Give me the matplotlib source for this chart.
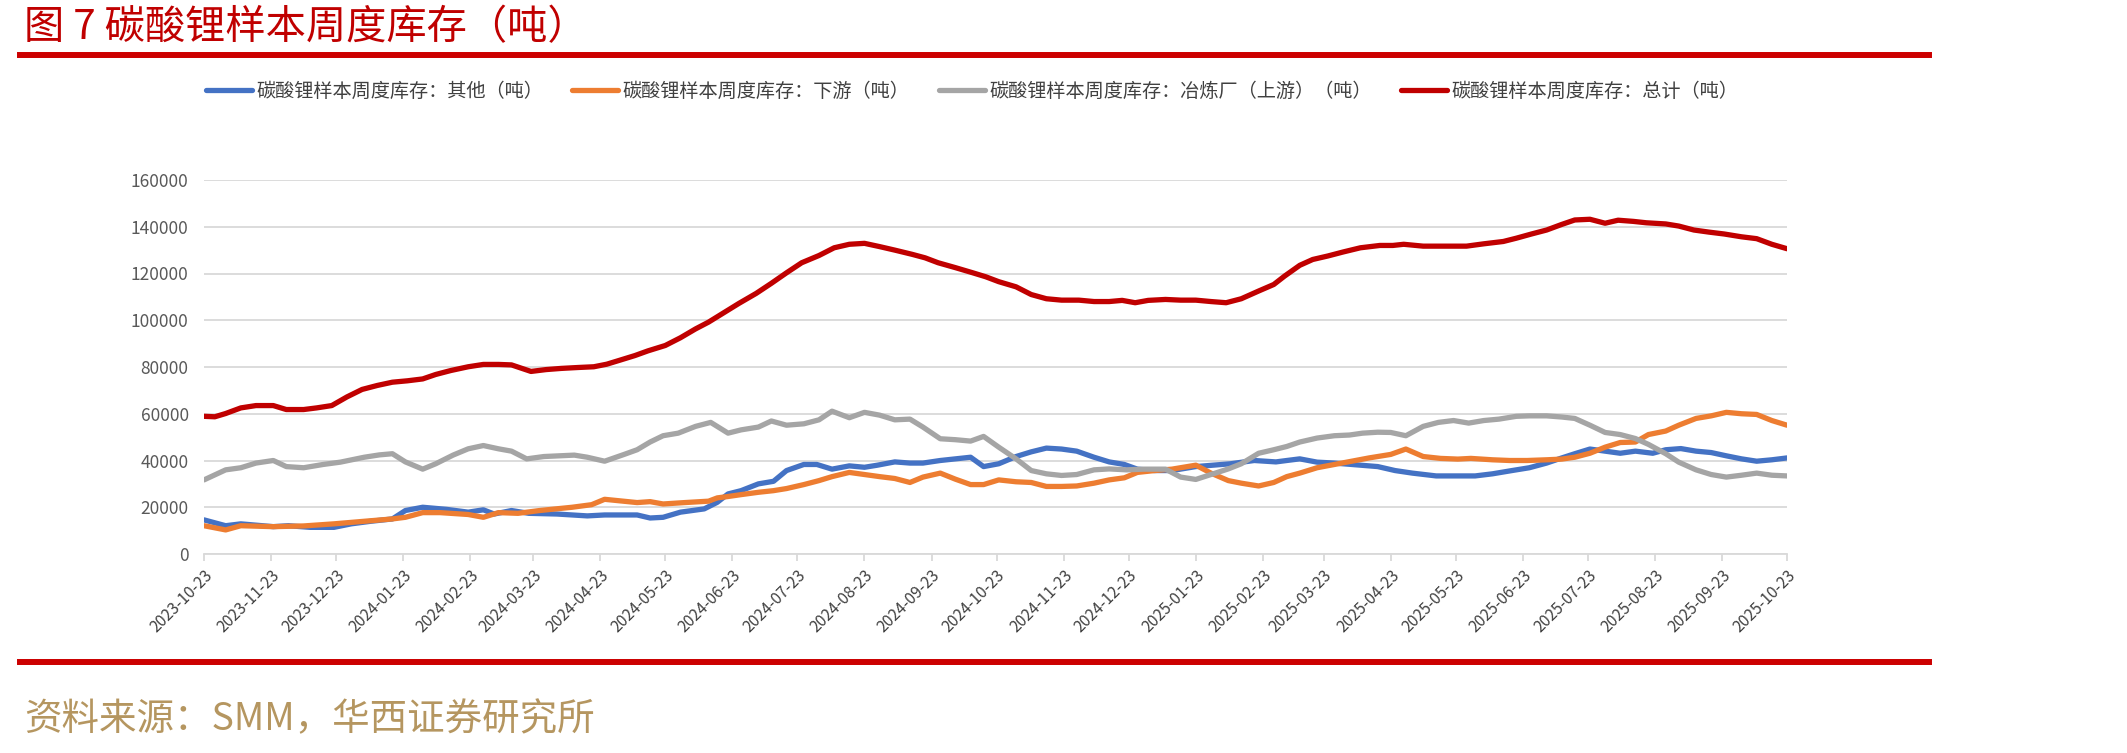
import matplotlib
matplotlib.use("Agg")
import matplotlib.pyplot as plt
import matplotlib.dates as mdates
from matplotlib.lines import Line2D
import pandas as pd

plt.rcParams['font.family'] = ['Noto Sans CJK SC', 'DejaVu Sans']

title = "图 7 碳酸锂样本周度库存（吨）"
source = "资料来源：SMM，华西证券研究所"
labels = ["碳酸锂样本周度库存：其他（吨）", "碳酸锂样本周度库存：下游（吨）",
          "碳酸锂样本周度库存：冶炼厂（上游）（吨）", "碳酸锂样本周度库存：总计（吨）"]
colors = ["#4472C4", "#ED7D31", "#A5A5A5", "#C00000"]

other_dates = ["2023-10-23", "2023-11-02", "2023-11-09", "2023-11-24", "2023-12-01", "2023-12-11",
               "2023-12-22", "2023-12-30", "2024-01-08", "2024-01-18", "2024-01-24", "2024-02-01",
               "2024-02-12", "2024-02-22", "2024-02-29", "2024-03-05", "2024-03-13", "2024-03-21",
               "2024-04-03", "2024-04-17", "2024-04-25", "2024-05-10", "2024-05-16", "2024-05-22",
               "2024-05-30", "2024-06-10", "2024-06-16", "2024-06-21", "2024-06-27", "2024-07-05",
               "2024-07-12", "2024-07-18", "2024-07-26", "2024-08-01", "2024-08-08", "2024-08-16",
               "2024-08-23", "2024-08-29", "2024-09-06", "2024-09-13", "2024-09-19", "2024-09-27",
               "2024-10-04", "2024-10-11", "2024-10-17", "2024-10-24", "2024-11-01", "2024-11-08",
               "2024-11-15", "2024-11-22", "2024-11-29", "2024-12-07", "2024-12-14", "2024-12-21",
               "2024-12-27", "2025-01-04", "2025-01-12", "2025-01-23", "2025-01-31", "2025-02-08",
               "2025-02-19", "2025-03-01", "2025-03-06", "2025-03-12", "2025-03-20", "2025-03-28",
               "2025-04-05", "2025-04-17", "2025-04-25", "2025-05-03", "2025-05-14", "2025-05-22",
               "2025-06-01", "2025-06-09", "2025-06-18", "2025-06-26", "2025-07-04", "2025-07-11",
               "2025-07-17", "2025-07-24", "2025-07-31", "2025-08-07", "2025-08-14", "2025-08-22",
               "2025-08-28", "2025-09-04", "2025-09-11", "2025-09-18", "2025-09-25", "2025-10-02",
               "2025-10-09", "2025-10-16", "2025-10-23"]
other_vals = [14600, 12100, 12900, 11700, 12100, 11400, 11400, 12900, 14000, 15000, 18600, 20000,
              19100, 17900, 18900, 17100, 18600, 17400, 17100, 16300, 16700, 16700, 15400, 15700,
              17900, 19300, 22100, 25700, 27100, 30000, 31100, 35700, 38300, 38300, 36300, 37700,
              37100, 38000, 39400, 38900, 38900, 40000, 40700, 41400, 37400, 38600, 41700, 43700,
              45300, 44900, 44000, 41400, 39400, 38300, 36300, 35700, 35700, 37400, 38000, 38600,
              40000, 39400, 40000, 40700, 39300, 38900, 38300, 37400, 35700, 34600, 33400, 33400,
              33400, 34300, 35700, 36900, 38900, 41100, 42900, 44900, 44000, 43100, 44000, 43100,
              44600, 45100, 44000, 43400, 42000, 40700, 39700, 40300, 41100]

down_dates = ["2023-10-23", "2023-11-02", "2023-11-09", "2023-11-24", "2023-12-08", "2023-12-22",
              "2024-01-05", "2024-01-18", "2024-01-24", "2024-02-01", "2024-02-09", "2024-02-22",
              "2024-02-29", "2024-03-07", "2024-03-16", "2024-03-26", "2024-04-10", "2024-04-19",
              "2024-04-25", "2024-05-10", "2024-05-16", "2024-05-22", "2024-06-01", "2024-06-12",
              "2024-06-16", "2024-06-21", "2024-06-27", "2024-07-05", "2024-07-12", "2024-07-18",
              "2024-07-26", "2024-08-02", "2024-08-08", "2024-08-16", "2024-08-23", "2024-08-30",
              "2024-09-06", "2024-09-13", "2024-09-19", "2024-09-27", "2024-10-04", "2024-10-11",
              "2024-10-17", "2024-10-24", "2024-11-01", "2024-11-08", "2024-11-15", "2024-11-22",
              "2024-11-29", "2024-12-07", "2024-12-14", "2024-12-21", "2024-12-27", "2025-01-04",
              "2025-01-12", "2025-01-23", "2025-01-30", "2025-02-07", "2025-02-13", "2025-02-21",
              "2025-02-28", "2025-03-06", "2025-03-12", "2025-03-20", "2025-03-28", "2025-04-05",
              "2025-04-13", "2025-04-23", "2025-04-30", "2025-05-08", "2025-05-16", "2025-05-24",
              "2025-05-30", "2025-06-09", "2025-06-17", "2025-06-25", "2025-07-04", "2025-07-11",
              "2025-07-17", "2025-07-24", "2025-07-31", "2025-08-07", "2025-08-14", "2025-08-20",
              "2025-08-28", "2025-09-03", "2025-09-11", "2025-09-18", "2025-09-25", "2025-10-02",
              "2025-10-09", "2025-10-16", "2025-10-23"]
down_vals = [12100, 10300, 12100, 11700, 12000, 12900, 14000, 15000, 15700, 17700, 17700, 16900,
             15700, 17700, 17400, 18600, 20000, 21100, 23400, 22000, 22400, 21400, 22000, 22600,
             24000, 24600, 25400, 26400, 27100, 28000, 29700, 31400, 33100, 34900, 34000, 33100,
             32300, 30600, 32900, 34600, 32000, 29700, 29700, 31700, 30900, 30600, 28900, 28900,
             29100, 30300, 31700, 32600, 34900, 35700, 36300, 38000, 34600, 31400, 30300, 29100,
             30600, 33100, 34600, 36900, 38300, 39700, 41100, 42600, 44900, 41700, 40900, 40600,
             40900, 40300, 40000, 40000, 40300, 40600, 41400, 43100, 45700, 47700, 47900, 51100,
             52600, 55100, 58000, 59100, 60600, 60000, 59700, 57100, 55100]

smelter_dates = ["2023-10-23", "2023-11-02", "2023-11-09", "2023-11-16", "2023-11-24", "2023-11-30",
                 "2023-12-08", "2023-12-17", "2023-12-25", "2024-01-05", "2024-01-12", "2024-01-18",
                 "2024-01-24", "2024-02-01", "2024-02-07", "2024-02-15", "2024-02-22", "2024-02-29",
                 "2024-03-07", "2024-03-13", "2024-03-20", "2024-03-28", "2024-04-04", "2024-04-11",
                 "2024-04-17", "2024-04-25", "2024-05-04", "2024-05-10", "2024-05-16", "2024-05-22",
                 "2024-05-29", "2024-06-06", "2024-06-13", "2024-06-21", "2024-06-27", "2024-07-05",
                 "2024-07-11", "2024-07-18", "2024-07-26", "2024-08-02", "2024-08-08", "2024-08-16",
                 "2024-08-23", "2024-08-30", "2024-09-06", "2024-09-13", "2024-09-19", "2024-09-27",
                 "2024-10-04", "2024-10-11", "2024-10-17", "2024-10-24", "2024-11-01", "2024-11-08",
                 "2024-11-15", "2024-11-22", "2024-11-29", "2024-12-07", "2024-12-14", "2024-12-22",
                 "2024-12-30", "2025-01-09", "2025-01-16", "2025-01-23", "2025-01-30", "2025-02-07",
                 "2025-02-13", "2025-02-21", "2025-02-28", "2025-03-06", "2025-03-12", "2025-03-20",
                 "2025-03-28", "2025-04-04", "2025-04-10", "2025-04-17", "2025-04-23", "2025-04-30",
                 "2025-05-08", "2025-05-15", "2025-05-22", "2025-05-29", "2025-06-05", "2025-06-12",
                 "2025-06-20", "2025-06-26", "2025-07-04", "2025-07-11", "2025-07-17", "2025-07-24",
                 "2025-07-31", "2025-08-07", "2025-08-14", "2025-08-20", "2025-08-28", "2025-09-03",
                 "2025-09-11", "2025-09-18", "2025-09-25", "2025-10-02", "2025-10-09", "2025-10-16",
                 "2025-10-23"]
smelter_vals = [31700, 36000, 36900, 38900, 40000, 37400, 36900, 38300, 39300, 41400, 42400, 42900,
                39400, 36300, 38600, 42300, 45000, 46400, 45000, 44000, 40700, 41700, 42000, 42300,
                41400, 39700, 42600, 44600, 47900, 50600, 51700, 54600, 56300, 51700, 53100, 54300,
                56900, 55100, 55700, 57400, 61100, 58300, 60600, 59400, 57400, 57700, 54300, 49300,
                48900, 48300, 50300, 45700, 40700, 35700, 34300, 33600, 34000, 36000, 36400, 36000,
                36300, 36300, 32900, 31900, 34000, 36400, 38600, 43100, 44600, 46000, 47900, 49600,
                50600, 50900, 51700, 52100, 52000, 50600, 54600, 56300, 57100, 56000, 57100, 57700,
                58900, 59100, 59100, 58600, 58000, 55100, 52000, 51100, 49400, 46900, 42900, 39300,
                36000, 34000, 32900, 33700, 34600, 33700, 33400]

total_dates = ["2023-10-23", "2023-10-28", "2023-11-02", "2023-11-09", "2023-11-16", "2023-11-24",
               "2023-11-30", "2023-12-08", "2023-12-14", "2023-12-21", "2023-12-28", "2024-01-04",
               "2024-01-11", "2024-01-18", "2024-01-25", "2024-02-01", "2024-02-07", "2024-02-14",
               "2024-02-22", "2024-02-29", "2024-03-07", "2024-03-13", "2024-03-22", "2024-03-29",
               "2024-04-05", "2024-04-13", "2024-04-20", "2024-04-26", "2024-05-02", "2024-05-09",
               "2024-05-15", "2024-05-23", "2024-05-30", "2024-06-06", "2024-06-12", "2024-06-19",
               "2024-06-26", "2024-07-04", "2024-07-11", "2024-07-18", "2024-07-25", "2024-08-02",
               "2024-08-09", "2024-08-16", "2024-08-23", "2024-08-30", "2024-09-06", "2024-09-14",
               "2024-09-20", "2024-09-26", "2024-10-04", "2024-10-12", "2024-10-18", "2024-10-24",
               "2024-11-01", "2024-11-08", "2024-11-15", "2024-11-22", "2024-11-30", "2024-12-07",
               "2024-12-14", "2024-12-20", "2024-12-26", "2025-01-01", "2025-01-09", "2025-01-16",
               "2025-01-23", "2025-01-30", "2025-02-06", "2025-02-13", "2025-02-21", "2025-02-28",
               "2025-03-05", "2025-03-12", "2025-03-18", "2025-03-25", "2025-04-01", "2025-04-09",
               "2025-04-18", "2025-04-24", "2025-04-29", "2025-05-08", "2025-05-16", "2025-05-28",
               "2025-06-05", "2025-06-14", "2025-06-20", "2025-06-27", "2025-07-04", "2025-07-11",
               "2025-07-17", "2025-07-24", "2025-07-31", "2025-08-06", "2025-08-13", "2025-08-19",
               "2025-08-28", "2025-09-03", "2025-09-10", "2025-09-17", "2025-09-24", "2025-10-02",
               "2025-10-09", "2025-10-16", "2025-10-23"]
total_vals = [58900, 58700, 60100, 62500, 63500, 63500, 61800, 61800, 62500, 63500, 67200, 70400,
              72100, 73500, 74100, 74900, 76800, 78500, 80100, 81100, 81100, 80900, 78100, 78900,
              79400, 79800, 80100, 81200, 82900, 84900, 86900, 89200, 92500, 96300, 99200, 103200,
              107200, 111500, 115800, 120300, 124600, 127700, 131000, 132500, 132900, 131500, 130000,
              128200, 126700, 124600, 122500, 120300, 118600, 116500, 114300, 111000, 109200, 108600,
              108600, 108000, 108000, 108500, 107500, 108500, 108900, 108600, 108600, 108000, 107500,
              109200, 112500, 115300, 118900, 123500, 126000, 127500, 129200, 131000, 132000, 132000,
              132500, 131700, 131700, 131700, 132700, 133700, 135100, 136900, 138600, 141000, 142900,
              143200, 141500, 142800, 142300, 141700, 141200, 140300, 138600, 137700, 136900, 135700,
              134900, 132500, 130600]

x_start, x_end = "2023-10-23", "2025-10-23"
y_max, y_step = 160000, 20000

W, H = 2127, 753
fig = plt.figure(figsize=(W / 100, H / 100), dpi=100)
ax = fig.add_axes([204 / W, 1 - 554 / H, (1787 - 204) / W, (554 - 180) / H])

series = [(other_dates, other_vals), (down_dates, down_vals),
          (smelter_dates, smelter_vals), (total_dates, total_vals)]
handles = []
for (d, v), c, lab in zip(series, colors, labels):
    h, = ax.plot(pd.to_datetime(d), v, color=c, lw=3.8, label=lab, solid_capstyle='round',
                 solid_joinstyle='round')
    handles.append(h)

ax.set_xlim(pd.Timestamp(x_start), pd.Timestamp(x_end))
ax.set_ylim(0, y_max)
ax.set_yticks(range(0, y_max + 1, y_step))
ax.yaxis.set_major_formatter(matplotlib.ticker.FuncFormatter(lambda v, p: f"{int(v)}"))
ax.xaxis.set_major_locator(mdates.MonthLocator(bymonthday=23))
ax.xaxis.set_major_formatter(mdates.DateFormatter("%Y-%m-%d"))
ax.grid(axis='y', color='#D9D9D9', lw=1.3)
ax.set_axisbelow(True)
for s in ['top', 'right', 'left']:
    ax.spines[s].set_visible(False)
ax.spines['bottom'].set_color('#D9D9D9')
ax.spines['bottom'].set_linewidth(1.3)
ax.tick_params(axis='y', length=0, pad=11, labelsize=12.5, labelcolor='#595959')
ax.tick_params(axis='x', length=5, width=1.3, color='#D9D9D9', pad=4, labelsize=11.3,
               labelcolor='#404040')
for lbl in ax.get_xticklabels():
    lbl.set_rotation(45)
    lbl.set_ha('right')
    lbl.set_va('top')
    lbl.set_rotation_mode('anchor')

fig.legend(handles=handles, loc='center', bbox_to_anchor=(972 / W, 1 - 91 / H), ncol=4,
           frameon=False, fontsize=13.8, handlelength=2.4, handletextpad=0.25, columnspacing=1.5,
           labelcolor='#404040')

fig.text(24 / W, 1 - 28 / H, title, fontsize=29, color='#C00000', va='center', ha='left')
fig.add_artist(Line2D([20 / W, 1929 / W], [1 - 55 / H, 1 - 55 / H], color='#CC0000', lw=4.3,
                      transform=fig.transFigure))
fig.add_artist(Line2D([20 / W, 1929 / W], [1 - 662 / H, 1 - 662 / H], color='#CC0000', lw=4.3,
                      transform=fig.transFigure))
fig.text(24 / W, 1 - 720 / H, source, fontsize=27, color='#B59660', va='center', ha='left')

fig.savefig("out.png", dpi=100)
